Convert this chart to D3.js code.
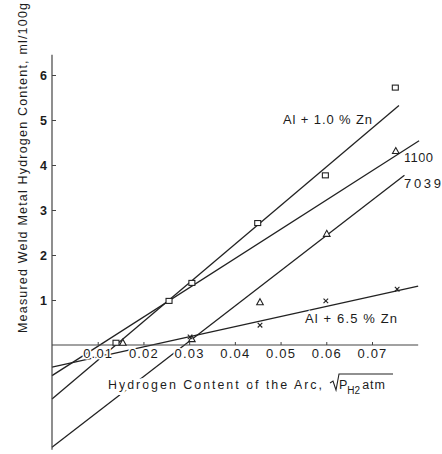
<!DOCTYPE html>
<html>
<head>
<meta charset="utf-8">
<script src="https://cdn.jsdelivr.net/npm/d3@7"></script>
<style>
  body { margin: 0; background: #fff; }
  text { font-family: "Liberation Sans", Arial, sans-serif; fill: #1c1c1c; }
</style>
</head>
<body>
<div id="chart"></div>
<script>
const width = 442;
const height = 454;

// tick values
const xTicks = [0.01, 0.02, 0.03, 0.04, 0.05, 0.06, 0.07];
const yTicks = [1, 2, 3, 4, 5, 6];

// measured points [sqrt(pH2), ml/100g]
const al10Points = [[0.0140, 0.05], [0.0256, 0.98], [0.0306, 1.38], [0.0450, 2.71], [0.0598, 3.77], [0.0751, 5.72]];
const a1100Points = [[0.0155, 0.05], [0.0752, 4.31]];
const a7039Points = [[0.0306, 0.13], [0.0455, 0.95], [0.0601, 2.47]];
const al65Points = [[0.0302, 0.18], [0.0455, 0.44], [0.0599, 0.98], [0.0755, 1.24]];

// fitted straight lines, start and end
const al10Line = [[0, -1.20], [0.0759, 5.32]];
const a1100Line = [[0, -0.68], [0.0803, 4.54]];
const a7039Line = [[0, -2.27], [0.0771, 3.77]];
const al65Line = [[0, -0.49], [0.0801, 1.31]];

const seriesNames = ["Al + 1.0 % Zn", "1100", "7039", "Al + 6.5 % Zn"];

const xAxisEnd = 0.0801;
const yAxisRange = [-2.33, 6.45];

const svg = d3.select("#chart")
  .append("svg")
  .attr("width", width)
  .attr("height", height);

svg.append("rect").attr("width", width).attr("height", height).attr("fill", "#fff");

const x = d3.scaleLinear().domain([0, 0.07]).range([52, 372]);
const y = d3.scaleLinear().domain([0, 6]).range([345, 75]);

const ink = "#222";

// regression lines
const line = d3.line().x(d => x(d[0])).y(d => y(d[1]));
svg.selectAll(".fit")
  .data([al10Line, a1100Line, a7039Line, al65Line])
  .enter()
  .append("path")
  .attr("class", "fit")
  .attr("d", line)
  .attr("fill", "none")
  .attr("stroke", ink)
  .attr("stroke-width", 1.3);

// axis lines
svg.append("line")
  .attr("x1", x(0)).attr("x2", x(0))
  .attr("y1", y(yAxisRange[0])).attr("y2", y(yAxisRange[1]))
  .attr("stroke", "#444").attr("stroke-width", 1.2);
svg.append("line")
  .attr("x1", x(0)).attr("x2", x(xAxisEnd))
  .attr("y1", y(0)).attr("y2", y(0))
  .attr("stroke", "#444").attr("stroke-width", 1.2);

// x axis ticks and labels
const xAxis = svg.append("g")
  .attr("transform", `translate(0,${y(0)})`)
  .call(d3.axisBottom(x).tickValues(xTicks).tickFormat(d3.format(".2f"))
    .tickSizeInner(-3).tickSizeOuter(0).tickPadding(4));
xAxis.select(".domain").remove();
xAxis.selectAll("line").attr("stroke", "#444");
xAxis.selectAll("text")
  .attr("font-size", 13)
  .attr("letter-spacing", 1.2)
  .attr("fill", ink)
  .attr("stroke", "#fff")
  .attr("stroke-width", 3)
  .attr("paint-order", "stroke")
  .attr("font-family", "Liberation Sans, Arial, sans-serif");

// y axis ticks and labels
const yAxis = svg.append("g")
  .attr("transform", `translate(${x(0)},0)`)
  .call(d3.axisLeft(y).tickValues(yTicks).tickFormat(d3.format("d"))
    .tickSizeInner(-4).tickSizeOuter(0).tickPadding(5));
yAxis.select(".domain").remove();
yAxis.selectAll("line").attr("stroke", "#444");
yAxis.selectAll("text")
  .attr("font-size", 12.5)
  .attr("font-weight", "bold")
  .attr("fill", "#333")
  .attr("font-family", "Liberation Sans, Arial, sans-serif");

// axis titles
svg.append("text")
  .attr("transform", "translate(27,168) rotate(-90)")
  .attr("text-anchor", "middle")
  .attr("font-size", 12.5)
  .attr("textLength", 330)
  .attr("lengthAdjust", "spacing")
  .text("Measured Weld Metal Hydrogen Content, ml/100g");

svg.append("text")
  .attr("x", 108)
  .attr("y", 389)
  .attr("font-size", 12.5)
  .attr("textLength", 214)
  .attr("lengthAdjust", "spacing")
  .attr("stroke", "#fff")
  .attr("stroke-width", 6)
  .attr("paint-order", "stroke")
  .text("Hydrogen Content of the Arc,");
const rad = svg.append("text")
  .attr("x", 339)
  .attr("y", 389)
  .attr("font-size", 12.5);
rad.append("tspan").text("P");
rad.append("tspan").attr("dy", 5).attr("font-size", 10).text("H");
rad.append("tspan").attr("font-size", 10).text("2");
rad.append("tspan").attr("dy", -5).attr("dx", 2).attr("letter-spacing", 1).text("atm");
svg.append("path")
  .attr("d", "M330,383 L333,381 L336,390 L339,374 L393,374")
  .attr("fill", "none")
  .attr("stroke", ink)
  .attr("stroke-width", 1.1);

// series labels
const labels = svg.append("g")
  .attr("font-size", 13)
  .attr("stroke", "#fff")
  .attr("stroke-width", 3)
  .attr("paint-order", "stroke");
labels.append("text").attr("x", 283).attr("y", 124)
  .attr("textLength", 89).attr("lengthAdjust", "spacing").text(seriesNames[0]);
labels.append("text").attr("x", 404).attr("y", 162)
  .attr("textLength", 29).attr("lengthAdjust", "spacing").text(seriesNames[1]);
labels.append("text").attr("x", 404).attr("y", 188)
  .attr("textLength", 37).attr("lengthAdjust", "spacing").text(seriesNames[2]);
labels.append("text").attr("x", 305).attr("y", 323)
  .attr("textLength", 92).attr("lengthAdjust", "spacing").text(seriesNames[3]);

// markers
svg.selectAll(".sq")
  .data(al10Points)
  .enter()
  .append("rect")
  .attr("class", "sq")
  .attr("x", d => x(d[0]) - 3)
  .attr("y", d => y(d[1]) - 2.5)
  .attr("width", 6)
  .attr("height", 5)
  .attr("fill", "#fff")
  .attr("stroke", ink)
  .attr("stroke-width", 1.1);

svg.selectAll(".tri")
  .data(a1100Points.concat(a7039Points))
  .enter()
  .append("path")
  .attr("class", "tri")
  .attr("transform", d => `translate(${x(d[0])},${y(d[1])})`)
  .attr("d", "M0,-3.5L3.3,2.5L-3.3,2.5Z")
  .attr("fill", "#fff")
  .attr("stroke", ink)
  .attr("stroke-width", 1.1);

svg.selectAll(".cross")
  .data(al65Points)
  .enter()
  .append("path")
  .attr("class", "cross")
  .attr("transform", d => `translate(${x(d[0])},${y(d[1])})`)
  .attr("d", "M-2.3,-2.3L2.3,2.3M-2.3,2.3L2.3,-2.3")
  .attr("stroke", ink)
  .attr("stroke-width", 1.1);
</script>
</body>
</html>
